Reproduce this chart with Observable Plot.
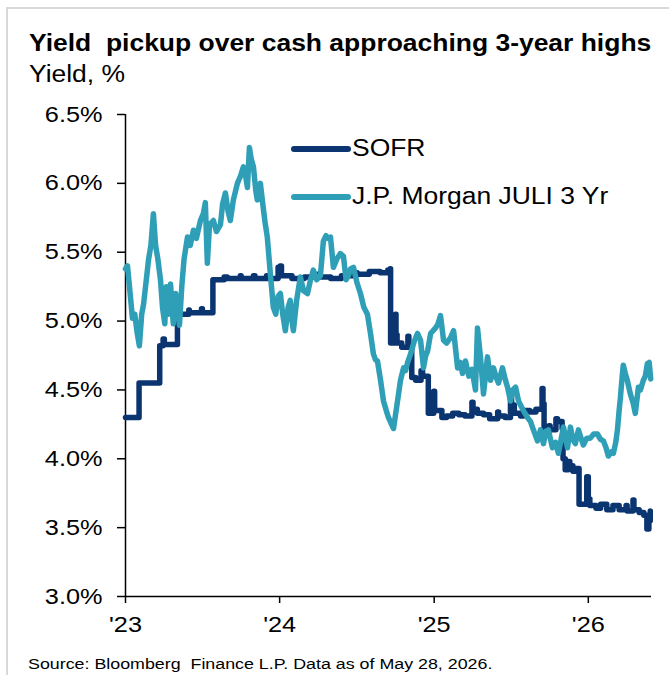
<!DOCTYPE html>
<html><head><meta charset="utf-8">
<script src="https://cdn.jsdelivr.net/npm/d3@7"></script>
<script src="https://cdn.jsdelivr.net/npm/@observablehq/plot@0.6"></script>
<style>
html,body{margin:0;padding:0;background:#fff;}
body{width:669px;height:675px;overflow:hidden;position:relative;font-family:"Liberation Sans",Arial,sans-serif;color:#000;}
.frame{position:absolute;left:6px;top:7px;width:720px;height:720px;border-left:2px solid #d9d9d9;border-top:2px solid #d9d9d9;box-sizing:border-box;}
.t{position:absolute;white-space:nowrap;transform-origin:0 50%;transform:scaleX(1.15);}
#title{left:29px;top:32px;font-size:23px;line-height:23px;font-weight:bold;}
#subtitle{left:29px;top:63px;font-size:23px;line-height:23px;}
#source{left:28px;top:656px;font-size:15.5px;line-height:16px;}
#chart{position:absolute;left:0;top:92px;}
.lg-line{position:absolute;}
</style>
</head>
<body>
<div class="frame"></div>
<div id="title" class="t">Yield&nbsp; pickup over cash approaching 3-year highs</div>
<div id="subtitle" class="t">Yield, %</div>
<div id="chart"></div>
<div id="legend"></div>
<div id="source" class="t">Source: Bloomberg&nbsp; Finance L.P. Data as of May 28, 2026.</div>
<script>
// ---- data (decimal year, yield %) ----
const seriesNames = ["SOFR", "J.P. Morgan JULI 3 Yr"];
const seriesColors = ["#0a3570", "#2f9fb7"];
const yTicks = [3.0, 3.5, 4.0, 4.5, 5.0, 5.5, 6.0, 6.5];
const xTickYears = [2023, 2024, 2025, 2026];
const xDomainYears = [2023.0, 2026.41];

const sofrSeries = [[2023.000,4.30],[2023.088,4.55],[2023.222,4.82],[2023.244,4.87],[2023.252,4.83],[2023.337,5.05],[2023.411,5.08],[2023.414,5.06],[2023.493,5.09],[2023.499,5.06],[2023.567,5.30],[2023.640,5.32],[2023.660,5.31],[2023.745,5.33],[2023.750,5.31],[2023.830,5.33],[2023.840,5.31],[2023.915,5.33],[2023.920,5.31],[2023.990,5.39],[2024.003,5.40],[2024.012,5.33],[2024.080,5.31],[2024.160,5.32],[2024.245,5.34],[2024.252,5.32],[2024.330,5.31],[2024.400,5.33],[2024.495,5.35],[2024.502,5.34],[2024.580,5.36],[2024.650,5.35],[2024.700,5.37],[2024.715,5.38],[2024.718,4.84],[2024.747,4.96],[2024.750,5.05],[2024.753,4.90],[2024.760,4.84],[2024.790,4.81],[2024.830,4.89],[2024.836,4.82],[2024.855,4.59],[2024.880,4.57],[2024.915,4.64],[2024.925,4.60],[2024.962,4.33],[2024.997,4.49],[2025.003,4.35],[2025.050,4.30],[2025.080,4.31],[2025.120,4.33],[2025.160,4.32],[2025.200,4.31],[2025.245,4.41],[2025.252,4.36],[2025.280,4.33],[2025.320,4.32],[2025.360,4.29],[2025.412,4.34],[2025.418,4.31],[2025.460,4.30],[2025.495,4.45],[2025.502,4.39],[2025.520,4.33],[2025.560,4.31],[2025.580,4.35],[2025.620,4.34],[2025.660,4.36],[2025.700,4.51],[2025.706,4.40],[2025.713,4.18],[2025.745,4.24],[2025.752,4.21],[2025.790,4.29],[2025.800,4.27],[2025.830,4.22],[2025.836,4.00],[2025.850,3.92],[2025.870,3.98],[2025.880,3.95],[2025.900,3.91],[2025.915,3.93],[2025.940,3.67],[2025.990,3.87],[2026.000,3.71],[2026.010,3.66],[2026.050,3.64],[2026.080,3.67],[2026.120,3.63],[2026.160,3.66],[2026.200,3.63],[2026.245,3.66],[2026.252,3.62],[2026.290,3.70],[2026.296,3.63],[2026.330,3.61],[2026.360,3.59],[2026.380,3.49],[2026.393,3.55],[2026.402,3.62]];

const juliSeries = [[2023.000,5.38],[2023.013,5.40],[2023.030,5.20],[2023.045,5.02],[2023.060,5.05],[2023.075,4.92],[2023.090,4.82],[2023.105,5.05],[2023.117,5.12],[2023.135,5.30],[2023.150,5.45],[2023.165,5.55],[2023.181,5.78],[2023.195,5.55],[2023.210,5.45],[2023.227,5.30],[2023.240,5.10],[2023.255,4.98],[2023.265,5.25],[2023.280,5.05],[2023.292,5.27],[2023.310,4.98],[2023.325,5.20],[2023.337,5.15],[2023.350,4.97],[2023.365,5.25],[2023.380,5.45],[2023.402,5.61],[2023.420,5.55],[2023.441,5.66],[2023.460,5.60],[2023.486,5.73],[2023.505,5.78],[2023.518,5.86],[2023.531,5.42],[2023.545,5.70],[2023.570,5.73],[2023.590,5.65],[2023.616,5.70],[2023.630,5.85],[2023.648,5.93],[2023.665,5.80],[2023.680,5.73],[2023.700,5.88],[2023.726,6.00],[2023.745,6.05],[2023.765,6.12],[2023.780,6.05],[2023.791,5.97],[2023.804,6.26],[2023.815,6.18],[2023.830,6.12],[2023.845,5.95],[2023.855,5.88],[2023.875,6.00],[2023.894,5.82],[2023.905,5.72],[2023.920,5.61],[2023.940,5.34],[2023.959,5.10],[2023.975,5.05],[2023.990,5.18],[2024.005,5.20],[2024.020,5.05],[2024.037,4.93],[2024.055,5.10],[2024.069,5.15],[2024.080,5.00],[2024.089,4.93],[2024.110,5.15],[2024.134,5.32],[2024.155,5.22],[2024.180,5.20],[2024.200,5.30],[2024.218,5.37],[2024.240,5.30],[2024.264,5.33],[2024.283,5.58],[2024.300,5.62],[2024.315,5.60],[2024.329,5.61],[2024.348,5.39],[2024.370,5.45],[2024.393,5.49],[2024.413,5.47],[2024.430,5.30],[2024.445,5.33],[2024.460,5.38],[2024.478,5.39],[2024.500,5.28],[2024.523,5.20],[2024.545,5.10],[2024.568,5.05],[2024.588,4.91],[2024.607,4.76],[2024.620,4.72],[2024.633,4.71],[2024.653,4.57],[2024.672,4.42],[2024.690,4.35],[2024.704,4.30],[2024.720,4.26],[2024.737,4.22],[2024.750,4.32],[2024.763,4.42],[2024.782,4.57],[2024.802,4.66],[2024.815,4.64],[2024.828,4.70],[2024.847,4.76],[2024.870,4.85],[2024.892,4.91],[2024.912,4.86],[2024.931,4.66],[2024.945,4.75],[2024.957,4.78],[2024.977,4.91],[2025.009,4.95],[2025.025,4.98],[2025.041,5.04],[2025.061,4.86],[2025.080,4.84],[2025.106,4.88],[2025.126,4.93],[2025.152,4.66],[2025.170,4.70],[2025.184,4.62],[2025.203,4.71],[2025.225,4.60],[2025.245,4.65],[2025.268,4.50],[2025.281,4.95],[2025.301,4.73],[2025.320,4.47],[2025.346,4.74],[2025.366,4.57],[2025.385,4.66],[2025.400,4.60],[2025.417,4.55],[2025.443,4.66],[2025.460,4.58],[2025.476,4.52],[2025.495,4.42],[2025.510,4.50],[2025.528,4.52],[2025.547,4.42],[2025.565,4.38],[2025.579,4.35],[2025.605,4.30],[2025.625,4.27],[2025.644,4.21],[2025.670,4.13],[2025.690,4.21],[2025.709,4.11],[2025.725,4.20],[2025.741,4.21],[2025.767,4.08],[2025.787,4.12],[2025.806,4.04],[2025.825,4.15],[2025.839,4.23],[2025.852,4.15],[2025.865,4.08],[2025.884,4.23],[2025.900,4.14],[2025.916,4.11],[2025.936,4.21],[2025.950,4.16],[2025.968,4.10],[2025.990,4.15],[2026.013,4.15],[2026.035,4.18],[2026.059,4.18],[2026.080,4.14],[2026.098,4.13],[2026.115,4.08],[2026.130,4.02],[2026.150,4.05],[2026.163,4.04],[2026.178,4.12],[2026.189,4.21],[2026.200,4.35],[2026.208,4.44],[2026.220,4.60],[2026.227,4.68],[2026.240,4.62],[2026.253,4.57],[2026.273,4.47],[2026.292,4.40],[2026.305,4.33],[2026.325,4.52],[2026.338,4.50],[2026.357,4.57],[2026.370,4.60],[2026.383,4.69],[2026.395,4.70],[2026.405,4.58]];

// ---- helpers ----
const SX = 1.15; // horizontal stretch of the reference typography
function toDate(t) {
  const y = Math.floor(t);
  const s = Date.UTC(y, 0, 1), e = Date.UTC(y + 1, 0, 1);
  return new Date(s + (t - y) * (e - s));
}
const sofr = sofrSeries.map(([t, v]) => ({date: toDate(t), value: v}));
const juli = juliSeries.map(([t, v]) => ({date: toDate(t), value: v}));

const chart = Plot.plot({
  width: 669, height: 556,
  marginLeft: 125, marginRight: 18, marginTop: 22, marginBottom: 52,
  style: {fontFamily: "'Liberation Sans', Arial, sans-serif", fontSize: "22px", color: "#000", background: "transparent", overflow: "visible"},
  x: {type: "utc", domain: xDomainYears.map(toDate)},
  y: {domain: [yTicks[0], yTicks[yTicks.length - 1]]},
  marks: [
    Plot.axisY(yTicks, {tickSize: 8, tickPadding: 15, strokeWidth: 1.5, tickFormat: d => d.toFixed(1) + "%", label: null}),
    Plot.axisX(xTickYears.map(toDate), {tickSize: 7, tickPadding: 13, strokeWidth: 1.5, tickFormat: d => "'" + String(d.getUTCFullYear()).slice(2), label: null}),
    Plot.ruleX([toDate(xDomainYears[0])], {stroke: "#000", strokeWidth: 1.5}),
    Plot.ruleY([yTicks[0]], {stroke: "#000", strokeWidth: 1.5}),
    Plot.line(sofr, {x: "date", y: "value", stroke: seriesColors[0], strokeWidth: 5.5, curve: "step-after", strokeLinejoin: "round", strokeLinecap: "round"}),
    Plot.line(juli, {x: "date", y: "value", stroke: seriesColors[1], strokeWidth: 5.5, strokeLinejoin: "round", strokeLinecap: "round"})
  ]
});

// stretch tick labels horizontally around their anchors
chart.querySelectorAll("text").forEach(el => {
  const tr = el.getAttribute("transform");
  if (tr) {
    el.setAttribute("transform", tr + ` scale(${SX},1)`);
  } else {
    const x = +el.getAttribute("x") || 0;
    el.removeAttribute("x");
    el.setAttribute("transform", `translate(${x},0) scale(${SX},1)`);
  }
});
document.getElementById("chart").appendChild(chart);

// ---- legend ----
const legend = document.getElementById("legend");
const legendTop = [137, 185];
seriesNames.forEach((name, i) => {
  const sw = document.createElementNS("http://www.w3.org/2000/svg", "svg");
  sw.setAttribute("width", 62); sw.setAttribute("height", 12);
  sw.setAttribute("class", "lg-line");
  sw.style.left = "290px"; sw.style.top = (legendTop[i] + 6) + "px";
  const ln = document.createElementNS("http://www.w3.org/2000/svg", "line");
  ln.setAttribute("x1", 4); ln.setAttribute("x2", 58); ln.setAttribute("y1", 6); ln.setAttribute("y2", 6);
  ln.setAttribute("stroke", seriesColors[i]); ln.setAttribute("stroke-width", 6); ln.setAttribute("stroke-linecap", "round");
  sw.appendChild(ln);
  legend.appendChild(sw);
  const tx = document.createElement("div");
  tx.className = "t";
  tx.textContent = name;
  tx.style.left = "352px"; tx.style.top = legendTop[i] + "px";
  tx.style.fontSize = "23px"; tx.style.lineHeight = "23px";
  legend.appendChild(tx);
});
</script>
</body></html>
